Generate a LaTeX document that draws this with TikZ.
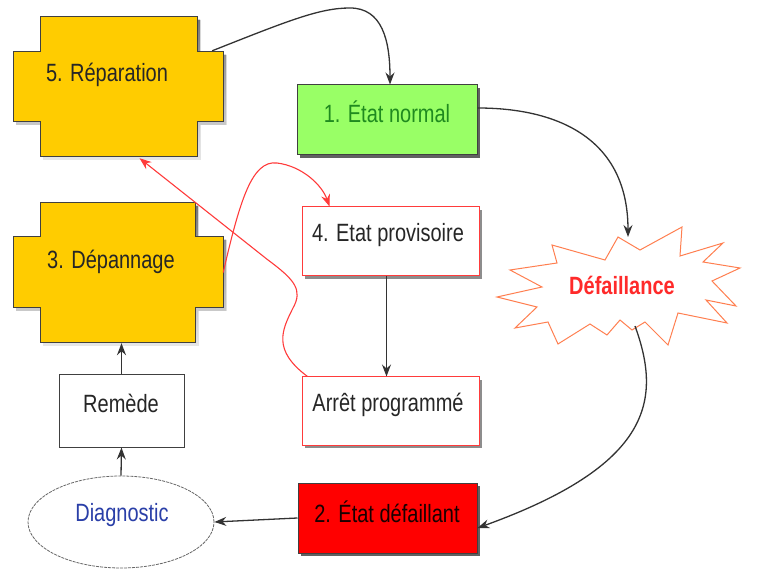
\documentclass[tikz,border=0pt]{standalone}
\usepackage{fontspec}
\setmainfont{Liberation Sans}[FakeStretch=0.8]
\usetikzlibrary{arrows.meta,calc,shapes.geometric,shadows}

\definecolor{gold}{HTML}{FFCC00}
\definecolor{lime}{HTML}{99FF66}
\definecolor{okgreen}{HTML}{1F8A1F}
\definecolor{alarm}{HTML}{FF0000}
\definecolor{burst}{HTML}{FF7F50}
\definecolor{bursttext}{HTML}{FF2A2A}
\definecolor{linkred}{HTML}{FF3B3B}
\definecolor{diagblue}{HTML}{2A3FA8}
\definecolor{shade}{HTML}{505050}

% cross-shaped box: inner x1,x2 / outer X1,X2 / inner top,bottom Y1,Y2 / band top,bottom y1,y2
\newcommand\crosspath[8]{(#1,#5) -- (#2,#5) -- (#2,#7) -- (#4,#7) -- (#4,#8) -- (#2,#8) -- (#2,#6) -- (#1,#6) -- (#1,#8) -- (#3,#8) -- (#3,#7) -- (#1,#7) -- cycle}

\begin{document}
\begin{tikzpicture}[x=1pt,y=-1pt,
  txt/.style={font=\fontsize{25}{29}\selectfont, inner sep=0pt},
  statebox/.style={draw=black!75, line width=1pt, inner sep=0pt,
    drop shadow={shadow xshift=3pt, shadow yshift=-3pt, fill=shade, opacity=0.9}},
  redbox/.style={draw=linkred, line width=1pt, fill=white, inner sep=0pt,
    drop shadow={shadow xshift=3pt, shadow yshift=-3pt, fill=shade, opacity=0.65}},
  ghost/.style={inner sep=0pt, draw=none},
  flow/.style={draw=black!80, line width=1.3pt, -{Stealth[length=12pt,width=9pt,inset=4pt]}},
  redflow/.style={draw=linkred, line width=1.1pt, -{Stealth[length=12pt,width=9pt,inset=4pt]}}]

\useasboundingbox (0,0) rectangle (758,569);

% --- cross-shaped repair boxes ---
\fill[shade, opacity=0.9, shift={(3,3)}] \crosspath{40}{197}{13}{223}{17}{157}{52}{122};
\filldraw[fill=gold, draw=black!75, line width=1pt] \crosspath{40}{197}{13}{223}{17}{157}{52}{122};
\fill[shade, opacity=0.9, shift={(3,3)}] \crosspath{40}{195}{13}{223}{203}{343}{237}{308};
\filldraw[fill=gold, draw=black!75, line width=1pt] \crosspath{40}{195}{13}{223}{203}{343}{237}{308};

\node[ghost, minimum width=157pt, minimum height=140pt] (rep) at (118.5,87) {};
\node[ghost, minimum width=210pt, minimum height=70pt] (repband) at (118,87) {};
\node[ghost, minimum width=155pt, minimum height=140pt] (dep) at (117.5,273) {};
\node[ghost, minimum width=210pt, minimum height=71pt] (depband) at (118,272.5) {};
\node[txt, text=black!85] (trep) at (107,75) {5. Réparation};
\node[txt, text=black!85] (tdep) at (111,262) {3. Dépannage};

% --- rectangular states ---
\node[statebox, fill=lime, minimum width=180pt, minimum height=70pt] (n1) at (387,120) {};
\node[txt, text=okgreen] (t1) at (387,112) {1. État normal};

\node[redbox, minimum width=177pt, minimum height=69pt] (n4) at (390.5,241.5) {};
\node[txt, text=black!85] (t4) at (388,235) {4. Etat provisoire};

\node[redbox, minimum width=177pt, minimum height=68pt] (nA) at (390.5,411) {};
\node[txt, text=black!85] (tA) at (388,405) {Arrêt programmé};

\node[draw=black!75, line width=1pt, inner sep=0pt, fill=white, minimum width=125pt, minimum height=72pt] (nR) at (121.5,411) {};
\node[txt, text=black!85] (tR) at (121,403) {Remède};

\node[statebox, fill=alarm, minimum width=179pt, minimum height=70pt] (n2) at (387.5,518) {};
\node[txt, text=black!90!red] (t2) at (387,512) {2. État défaillant};

\node[ellipse, draw=black!60, dash pattern=on 3pt off 1pt, line width=0.8pt, fill=white,
  minimum width=186pt, minimum height=92pt, inner sep=0pt] (diag) at (121,522) {};
\node[txt, text=diagblue] (tdiag) at (122,515) {Diagnostic};

% --- failure burst ---
\draw[burst, line width=1pt, fill=white, line join=miter]
  (497,297) -- (542,287) -- (510,270) -- (557,263) -- (552,245) -- (605,260) --
  (618,237) -- (640,250) -- (682,227) -- (680,256) -- (723,243) -- (703,262) --
  (740,268) -- (712,281) -- (736,306) -- (706,300) -- (727,323) -- (678,313) --
  (668,345) -- (645,322) -- (632,330) -- (620,320) -- (607,335) -- (590,324) --
  (558,344) -- (548,322) -- (515,328) -- (537,307) -- cycle;
\node[txt, font=\fontsize{25}{29}\selectfont\bfseries, text=bursttext] (def) at (622,285) {Défaillance};
\coordinate (deftop) at (628,237);
\coordinate (defbot) at (635,326);

% --- black transitions ---
\draw[flow] ($(repband.north east)+(-11,-1)$) .. controls (290,20) and (320,8) .. (350,8)
  .. controls (382,8) and (390,40) .. ($(n1.north)+(3,0)$);
\draw[flow] ($(n1.east)+(0,-12)$) .. controls (560,108) and (628,140) .. (deftop);
\draw[flow] (defbot) .. controls (662,400) and (652,465) .. ($(n2.east)+(0,10)$);
\draw[flow] (n2.west) -- (diag.east);
\draw[flow] (diag.north) -- (nR.south);
\draw[flow] (nR.north) -- (nR.north |- dep.south);
\draw[flow] ($(n4.south)+(-4,0)$) -- ($(nA.north)+(-4,0)$);

% --- red transitions ---
\draw[redflow] (depband.east) .. controls (240,200) and (252,160) .. (277,163)
  .. controls (302,166) and (322,185) .. ($(n4.north west)+(28,0)$);
\draw[redflow] ($(nA.north west)+(6,0)$) .. controls (272,350) and (282,330) .. (293,308)
  .. controls (303,290) and (295,280) .. (268,260) -- ($(rep.south)+(21,1)$);

\end{tikzpicture}
\end{document}
